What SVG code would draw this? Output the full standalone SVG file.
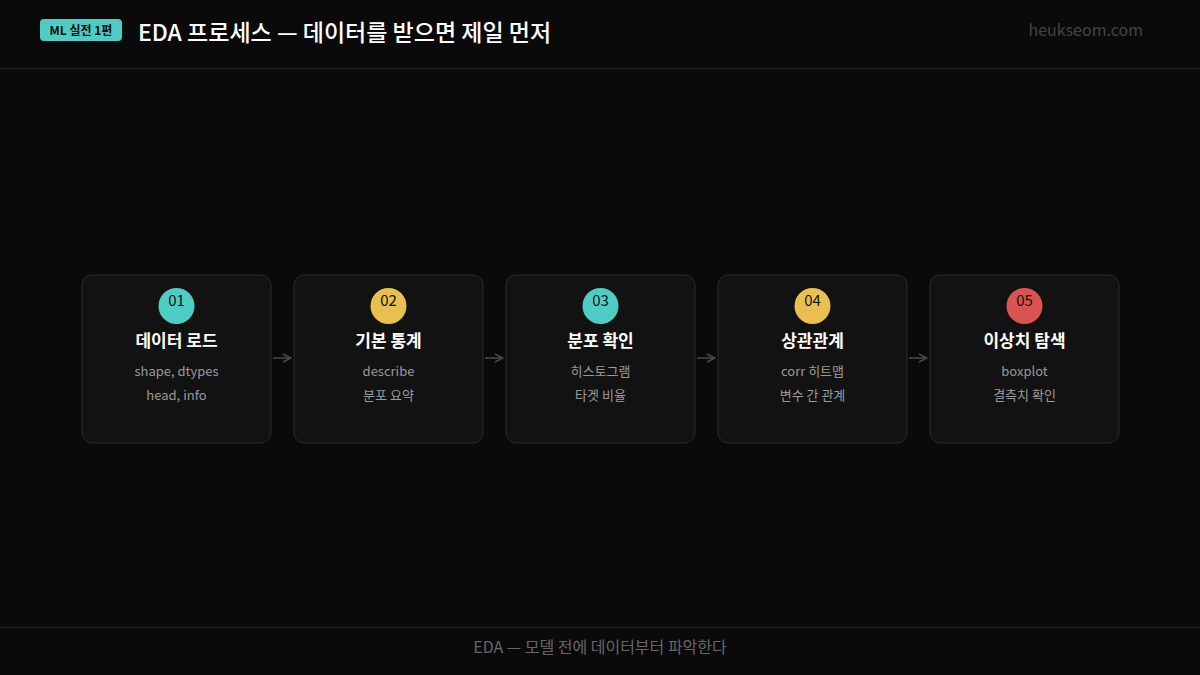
<svg xmlns="http://www.w3.org/2000/svg" width="1200" height="675" viewBox="0 0 1200 675">
<defs>
<style>
text{font-family:"Noto Sans CJK KR","Noto Sans",sans-serif}
.box{fill:#121212;stroke:#2a2a2a;stroke-width:1}
.num{font-size:15px;fill:#111;text-anchor:middle}
.ttl{font-size:17px;font-weight:700;fill:#fff;text-anchor:middle}
.sub{font-size:13px;fill:#9a9a9a;text-anchor:middle}
.conn{stroke:#4a4a4a;stroke-width:1.5;fill:none}
</style>
<marker id="ah" viewBox="0 0 10 10" refX="9" refY="5" markerWidth="10" markerHeight="10" markerUnits="userSpaceOnUse" orient="auto">
<path d="M1,1 L9,5 L1,9" fill="none" stroke="#4a4a4a" stroke-width="1.5"/>
</marker>
</defs>
<rect width="1200" height="675" fill="#0a0a0a"/>
<g id="header">
<rect x="40" y="19" width="82" height="22" rx="4" fill="#4ecdc4"/>
<text x="81" y="35" font-size="12" font-weight="700" fill="#0a0a0a" text-anchor="middle">ML 실전 1편</text>
<text x="138" y="41" font-size="23" font-weight="500" fill="#fff">EDA 프로세스 — 데이터를 받으면 제일 먼저</text>
<text x="1143" y="36" font-size="16" fill="#444" text-anchor="end">heukseom.com</text>
<line x1="0" y1="68.5" x2="1200" y2="68.5" stroke="#222"/>
</g>
<g id="connectors">
<line class="conn" x1="273" y1="358" x2="291" y2="358" marker-end="url(#ah)"/>
<line class="conn" x1="485" y1="358" x2="503" y2="358" marker-end="url(#ah)"/>
<line class="conn" x1="697" y1="358" x2="715" y2="358" marker-end="url(#ah)"/>
<line class="conn" x1="909" y1="358" x2="927" y2="358" marker-end="url(#ah)"/>
</g>
<g id="node1">
<rect class="box" x="82" y="275" width="189" height="168" rx="10"/>
<circle cx="176.5" cy="306" r="18" fill="#4ecdc4"/>
<text class="num" x="176.5" y="306">01</text>
<text class="ttl" x="176.5" y="347">데이터 로드</text>
<text class="sub" x="176.5" y="376">shape, dtypes</text>
<text class="sub" x="176.5" y="400">head, info</text>
</g>
<g id="node2">
<rect class="box" x="294" y="275" width="189" height="168" rx="10"/>
<circle cx="388.5" cy="306" r="18" fill="#e9c04f"/>
<text class="num" x="388.5" y="306">02</text>
<text class="ttl" x="388.5" y="347">기본 통계</text>
<text class="sub" x="388.5" y="376">describe</text>
<text class="sub" x="388.5" y="400">분포 요약</text>
</g>
<g id="node3">
<rect class="box" x="506" y="275" width="189" height="168" rx="10"/>
<circle cx="600.5" cy="306" r="18" fill="#4ecdc4"/>
<text class="num" x="600.5" y="306">03</text>
<text class="ttl" x="600.5" y="347">분포 확인</text>
<text class="sub" x="600.5" y="376">히스토그램</text>
<text class="sub" x="600.5" y="400">타겟 비율</text>
</g>
<g id="node4">
<rect class="box" x="718" y="275" width="189" height="168" rx="10"/>
<circle cx="812.5" cy="306" r="18" fill="#e9c04f"/>
<text class="num" x="812.5" y="306">04</text>
<text class="ttl" x="812.5" y="347">상관관계</text>
<text class="sub" x="812.5" y="376">corr 히트맵</text>
<text class="sub" x="812.5" y="400">변수 간 관계</text>
</g>
<g id="node5">
<rect class="box" x="930" y="275" width="189" height="168" rx="10"/>
<circle cx="1024.5" cy="306" r="18" fill="#d9534f"/>
<text class="num" x="1024.5" y="306">05</text>
<text class="ttl" x="1024.5" y="347">이상치 탐색</text>
<text class="sub" x="1024.5" y="376">boxplot</text>
<text class="sub" x="1024.5" y="400">결측치 확인</text>
</g>
<g id="footer">
<line x1="0" y1="627.5" x2="1200" y2="627.5" stroke="#222"/>
<text x="600" y="653" font-size="16" fill="#666" text-anchor="middle">EDA — 모델 전에 데이터부터 파악한다</text>
</g>
</svg>
